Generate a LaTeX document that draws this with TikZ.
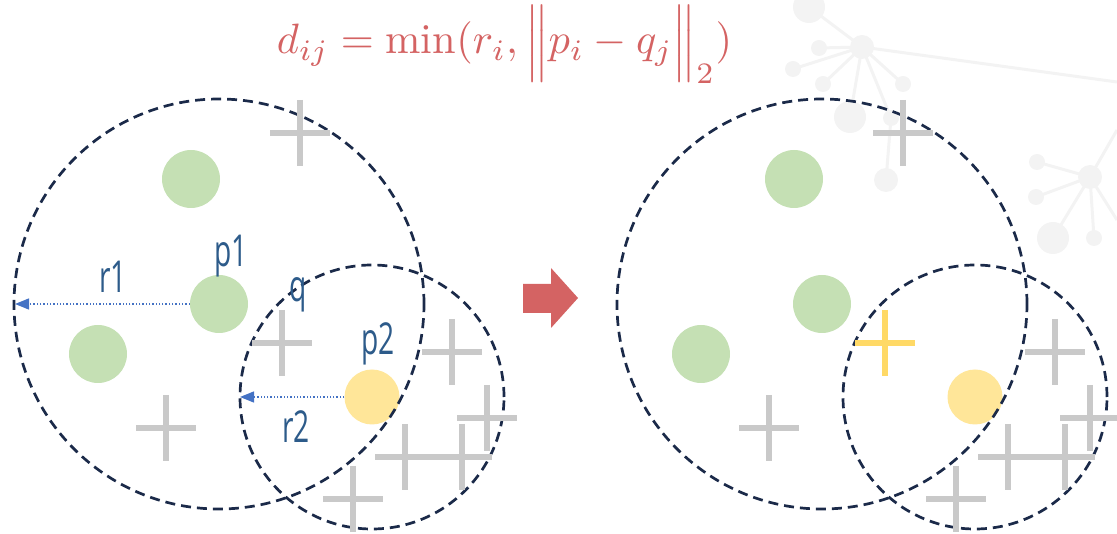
\documentclass[tikz,border=0pt]{standalone}
\usepackage{fontspec}
\usetikzlibrary{arrows.meta}
\newfontfamily\lblfont{Open Sans}
\definecolor{navy}{HTML}{1B2A49}
\definecolor{lblue}{HTML}{2D5B8A}
\definecolor{dotgreen}{HTML}{C5E0B4}
\definecolor{dotyellow}{HTML}{FFE699}
\definecolor{crossgray}{HTML}{C9C9C9}
\definecolor{crossyellow}{HTML}{FFD966}
\definecolor{fred}{HTML}{D46363}
\definecolor{arrowblue}{HTML}{4472C4}
\definecolor{deco}{HTML}{F3F3F3}
\tikzset{
  gdot/.style={circle,fill=dotgreen,minimum size=58pt,inner sep=0pt},
  ydot/.style={circle,fill=dotyellow,minimum size=55pt,inner sep=0pt},
  dcircle/.style={draw=navy,line width=2.7pt,dash pattern=on 10pt off 6pt},
  barrow/.style={draw=arrowblue,line width=1.3pt,dotted,-{Triangle[length=14pt,width=11pt]}},
  lbl/.style={text=lblue,font=\lblfont\fontsize{44}{44}\selectfont,inner sep=0pt,anchor=base},
  cross/.pic={\draw[line width=6pt] (-30,0)--(30,0) (0,-33)--(0,33);},
  decoline/.style={draw=deco,line width=3pt},
  deconode/.style={fill=deco}
}
\newcommand{\lbltext}[1]{\scalebox{0.64}[1]{#1}}
\begin{document}
\begin{tikzpicture}[x=1pt,y=-1pt]
\useasboundingbox (0,0) rectangle (1117,534);
% decorative network
\draw[decoline] (862,47) -- (809,7) (862,47) -- (819,48) (862,47) -- (793,69)
  (862,47) -- (823,84) (862,47) -- (903,84) (862,47) -- (850,117)
  (862,47) -- (891,118) -- (886,180) (862,47) -- (1117,82);
\draw[decoline] (1090,177) -- (1037,162) (1090,177) -- (1036,197)
  (1090,177) -- (1053,238) (1090,177) -- (1094,238)
  (1090,177) -- (1117,130) (1090,177) -- (1117,220);
\fill[deconode] (862,47) circle[radius=12pt] (809,7) circle[radius=16pt]
  (819,48) circle[radius=8pt] (793,69) circle[radius=8pt] (823,84) circle[radius=8pt]
  (903,84) circle[radius=8pt] (850,117) circle[radius=16pt] (891,118) circle[radius=8pt]
  (886,180) circle[radius=12pt];
\fill[deconode] (1090,177) circle[radius=12pt] (1037,162) circle[radius=8pt]
  (1036,197) circle[radius=8pt] (1053,238) circle[radius=16pt] (1094,238) circle[radius=8pt];

% formula
\node[text=fred,anchor=base,inner sep=0pt] (f) at (504.5,54)
  {\resizebox{455pt}{!}{$d_{ij} = \min(r_i, \Bigl\| p_i - q_j \Bigr\|_2)$}};

% ---------- left panel ----------
\node[gdot] (g1) at (191,179) {};
\node[gdot] (p1) at (219,304) {};
\node[gdot] (g3) at (98,354) {};
\node[ydot] (p2) at (372,397) {};
\draw[dcircle] (p1.center) circle[radius=205pt];
\draw[dcircle] (p2.center) circle[radius=132pt];
\pic[color=crossgray] at (300,133) {cross};
\pic[color=crossgray] at (282,343) {cross};
\pic[color=crossgray] at (166,428) {cross};
\pic[color=crossgray] at (452,352) {cross};
\pic[color=crossgray] at (487,418) {cross};
\pic[color=crossgray] at (405,457) {cross};
\pic[color=crossgray] at (462,457) {cross};
\pic[color=crossgray] at (353,499) {cross};
\coordinate (l1) at (15,304);
\coordinate (l2) at (240,397);
\draw[barrow] (p1) -- (l1);
\draw[barrow] (p2) -- (l2);
\node[lbl] (tr1) at (113,293) {\lbltext{r1}};
\node[lbl] (tp1) at (231,267) {\lbltext{p1}};
\node[lbl] (tq) at (298,302) {\lbltext{q}};
\node[lbl] (tp2) at (378,355) {\lbltext{p2}};
\node[lbl] (tr2) at (296,443) {\lbltext{r2}};

% red block arrow
\fill[fred] (523,284) -- (551,284) -- (551,268) -- (578,298) -- (551,328) -- (551,313) -- (523,313) -- cycle;

% ---------- right panel ----------
\node[gdot] (h1) at (794,179) {};
\node[gdot] (h2) at (822,304) {};
\node[gdot] (h3) at (701,354) {};
\node[ydot] (h4) at (975,397) {};
\draw[dcircle] (h2.center) circle[radius=205pt];
\draw[dcircle] (h4.center) circle[radius=132pt];
\pic[color=crossgray] at (903,133) {cross};
\pic[color=crossyellow] at (885,343) {cross};
\pic[color=crossgray] at (769,428) {cross};
\pic[color=crossgray] at (1055,352) {cross};
\pic[color=crossgray] at (1090,418) {cross};
\pic[color=crossgray] at (1008,457) {cross};
\pic[color=crossgray] at (1065,457) {cross};
\pic[color=crossgray] at (956,499) {cross};
\end{tikzpicture}
\end{document}
